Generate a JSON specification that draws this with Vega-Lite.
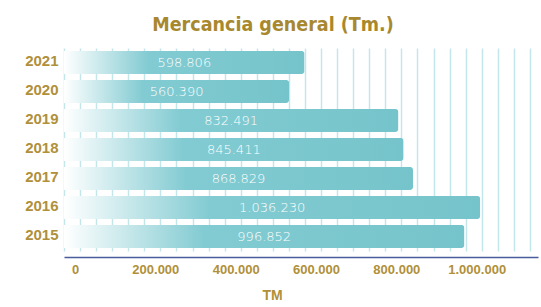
{
  "$schema": "https://vega.github.io/schema/vega-lite/v6.json",
  "autosize": {"type": "none"},
  "padding": {"left": 64, "top": 48, "right": 3, "bottom": 56},
  "width": 474,
  "height": 203,
  "background": "#ffffff",
  "title": {
    "text": "Mercancia general (Tm.)",
    "font": "DejaVu Sans Condensed, Liberation Sans, sans-serif",
    "fontSize": 19.5,
    "fontWeight": "bold",
    "color": "#a8882e",
    "anchor": "middle",
    "dx": -28,
    "offset": 13
  },
  "config": {
    "locale": {"number": {"decimal": ",", "thousands": ".", "grouping": [3], "currency": ["", ""]}},
    "view": {"stroke": null}
  },
  "data": {
    "values": [
      {"year": "2021", "value": 598806},
      {"year": "2020", "value": 560390},
      {"year": "2019", "value": 832491},
      {"year": "2018", "value": 845411},
      {"year": "2017", "value": 868829},
      {"year": "2016", "value": 1036230},
      {"year": "2015", "value": 996852}
    ]
  },
  "encoding": {
    "y": {
      "field": "year",
      "type": "ordinal",
      "sort": "descending",
      "scale": {"paddingInner": 0.2, "paddingOuter": 0.1},
      "axis": {
        "title": null,
        "domain": false,
        "ticks": false,
        "labelPadding": 6,
        "labelOffset": -2,
        "labelFont": "Liberation Sans",
        "labelFontSize": 15,
        "labelFontWeight": "bold",
        "labelColor": "#b0903a"
      }
    }
  },
  "layer": [
    {
      "mark": {
        "type": "bar",
        "cornerRadiusEnd": 3,
        "color": {
          "gradient": "linear",
          "x1": 0, "x2": 1, "y1": 0, "y2": 0,
          "stops": [
            {"offset": 0, "color": "#ffffff"},
            {"offset": 0.35, "color": "#82cbd2"},
            {"offset": 1, "color": "#76c4cb"}
          ]
        }
      },
      "encoding": {
        "x": {
          "field": "value",
          "type": "quantitative",
          "scale": {"domain": [0, 1180000], "nice": false},
          "axis": {
            "values": [0, 40000, 80000, 120000, 160000, 200000, 240000, 280000, 320000, 360000, 400000, 440000, 480000, 520000, 560000, 600000, 640000, 680000, 720000, 760000, 800000, 840000, 880000, 920000, 960000, 1000000, 1040000, 1080000, 1120000, 1160000],
            "tickCount": 100,
            "labelExpr": "datum.value % 200000 == 0 ? format(datum.value, ',d') : ''",
            "labelOverlap": false,
            "labelFlush": false,
            "grid": true,
            "gridColor": "#c4e5ea",
            "gridWidth": 1.5,
            "ticks": false,
            "offset": 6,
            "domainColor": "#4a5c9c",
            "domainWidth": 1.5,
            "labelOffset": 11,
            "labelPadding": 6,
            "labelFont": "Liberation Sans",
            "labelFontSize": 13,
            "labelFontWeight": "bold",
            "labelColor": "#b0903a",
            "title": "TM",
            "titleFont": "Liberation Sans",
            "titleFontSize": 14,
            "titleFontWeight": "bold",
            "titleColor": "#b0903a",
            "titlePadding": 12,
            "titleX": 208
          }
        }
      }
    },
    {
      "transform": [{"calculate": "datum.value / 2", "as": "mid"}],
      "mark": {
        "type": "text",
        "color": "#ffffff",
        "font": "DejaVu Sans",
        "fontSize": 13,
        "fontWeight": 200,
        "baseline": "middle",
        "align": "center"
      },
      "encoding": {
        "x": {"field": "mid", "type": "quantitative"},
        "text": {"field": "value", "type": "quantitative", "format": ",d"}
      }
    }
  ]
}
